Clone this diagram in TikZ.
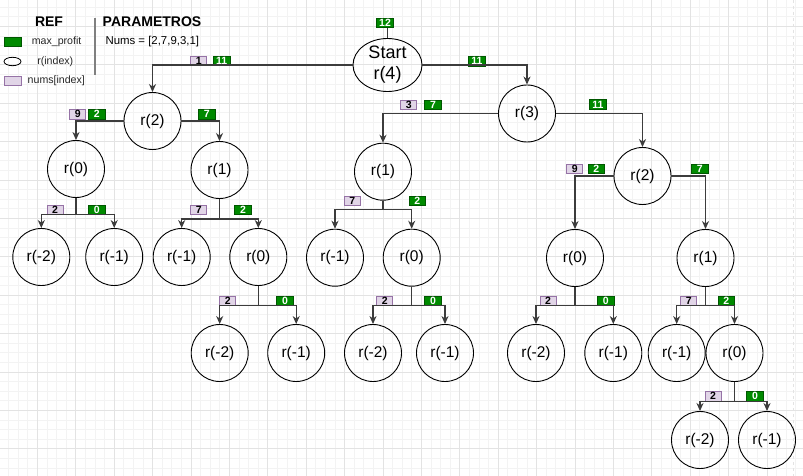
\documentclass[tikz,border=0pt]{standalone}
\usepackage{fontspec}
\setmainfont{Liberation Sans}
\usetikzlibrary{arrows.meta,shapes.geometric}
\definecolor{gminor}{HTML}{F3F3F3}
\definecolor{gmajor}{HTML}{E3E3E3}
\definecolor{pfill}{HTML}{E1D5E7}
\definecolor{pdraw}{HTML}{9673A6}
\definecolor{gfill}{HTML}{008A00}
\definecolor{gdraw}{HTML}{005700}
\definecolor{edgec}{HTML}{3C3C3C}
\tikzset{
  circ/.style={circle,draw=black,line width=0.9pt,minimum size=57pt,inner sep=0pt,font=\fontsize{15.5}{18}\selectfont},
  pbox/.style={rectangle,fill=pfill,draw=pdraw,line width=0.8pt,minimum width=16pt,minimum height=9.5pt,inner sep=0pt,font=\fontsize{10.5}{10}\selectfont\bfseries,text=black},
  gbox/.style={rectangle,fill=gfill,draw=gdraw,line width=0.8pt,minimum width=16.5pt,minimum height=9.5pt,inner sep=0pt,font=\fontsize{10.5}{10}\selectfont\bfseries,text=white},
  edge/.style={draw=edgec,line width=1.2pt,-{Stealth[length=8pt,width=7pt,inset=2.5pt]}},
  plain/.style={draw=edgec,line width=1.2pt},
  legtxt/.style={inner sep=0pt,font=\fontsize{10.6}{12}\selectfont,text=black!85}
}
\begin{document}
\begin{tikzpicture}[x=1pt,y=-1pt]
\useasboundingbox (0,0) rectangle (803,476);
\fill[white] (0,0) rectangle (803,476);
% grid
\foreach \i in {0,...,84} {
  \pgfmathsetmacro\xx{-1.1+9.6*\i}
  \draw[gminor,line width=0.6pt] (\xx,0) -- (\xx,476);
}
\foreach \i in {0,...,50} {
  \pgfmathsetmacro\yy{-2.5+9.6*\i}
  \draw[gminor,line width=0.6pt] (0,\yy) -- (803,\yy);
}
\foreach \i in {0,...,21} {
  \pgfmathsetmacro\xx{37.3+38.4*(\i-1)}
  \draw[gmajor,line width=0.7pt] (\xx,0) -- (\xx,476);
}
\foreach \i in {0,...,13} {
  \pgfmathsetmacro\yy{26.3+38.4*(\i-1)}
  \draw[gmajor,line width=0.7pt] (0,\yy) -- (803,\yy);
}
\draw[gmajor,line width=0.8pt,dashed] (793.5,0) -- (793.5,476);

% legend
\node[inner sep=0pt,font=\fontsize{14}{16}\selectfont\bfseries] (tref) at (49,22) {REF};
\node[inner sep=0pt,font=\fontsize{14}{16}\selectfont\bfseries] (tpar) at (152,22) {PARAMETROS};
\node[inner sep=0pt,font=\fontsize{11.4}{13}\selectfont] (tnums) at (152.3,42) {Nums = [2,7,9,3,1]};
\draw[gray,line width=1.3pt] (95,18) -- (95,75);
\node[rectangle,fill=gfill,draw=gdraw,line width=0.8pt,minimum width=17pt,minimum height=9.4pt,inner sep=0pt] (lg) at (12.5,42) {};
\node[legtxt] (lgt) at (56.6,42) {max\_profit};
\node[ellipse,draw=black,line width=0.8pt,minimum width=17pt,minimum height=8.4pt,inner sep=0pt] (le) at (12.5,61.5) {};
\node[legtxt] (let) at (55.3,61.5) {r(index)};
\node[rectangle,fill=pfill,draw=pdraw,line width=0.8pt,minimum width=17pt,minimum height=9pt,inner sep=0pt] (lp) at (12.5,80.5) {};
\node[legtxt] (lpt) at (56.3,80.5) {nums[index]};

% nodes
\node[ellipse,draw=black,line width=0.9pt,minimum width=69pt,minimum height=53pt,inner sep=0pt,align=center,font=\fontsize{18}{21}\selectfont] (root) at (387.5,65) {Start\\r(4)};
\node[circ] (r2a) at (152.5,121) {r(2)};
\node[circ] (r3) at (527,113.5) {r(3)};
\node[circ] (r0a) at (76,169) {r(0)};
\node[circ] (r1a) at (219.5,170) {r(1)};
\node[circ] (m2a) at (41.3,257) {r(-2)};
\node[circ] (m1a) at (114.2,257) {r(-1)};
\node[circ] (m1b) at (181.7,257) {r(-1)};
\node[circ] (r0b) at (258.3,257) {r(0)};
\node[circ] (m2b) at (219.7,353) {r(-2)};
\node[circ] (m1c) at (296.2,353) {r(-1)};
\node[circ] (r1c) at (383,171.7) {r(1)};
\node[circ] (m1d) at (335,257.7) {r(-1)};
\node[circ] (r0c) at (411.7,257.7) {r(0)};
\node[circ] (m2c) at (373,353) {r(-2)};
\node[circ] (m1e) at (445,353) {r(-1)};
\node[circ] (r2b) at (642.5,176) {r(2)};
\node[circ] (r0d) at (575,258) {r(0)};
\node[circ] (r1d) at (705.5,258) {r(1)};
\node[circ] (m2d) at (536,353) {r(-2)};
\node[circ] (m1f) at (613.3,353) {r(-1)};
\node[circ] (m1g) at (676.7,353) {r(-1)};
\node[circ] (r0e) at (734.5,353) {r(0)};
\node[circ] (m2e) at (700,440) {r(-2)};
\node[circ] (m1h) at (767,440) {r(-1)};

% junctions
\coordinate (j0a) at (76,214.3);
\coordinate (j1a) at (219.5,219);
\coordinate (j0b) at (258.3,305.7);
\coordinate (j1c) at (383,209.3);
\coordinate (j0c) at (411.7,305.3);
\coordinate (j0d) at (575,305.7);
\coordinate (j1d) at (705.5,305.7);
\coordinate (j0e) at (734.5,401.7);

% labels
\node[gbox] (l12) at (385,22.8) {12};
\node[pbox] (lr1) at (198.7,61) {1};
\node[gbox] (lr11) at (221.7,61) {11};
\node[gbox] (lr11b) at (477,61.3) {11};
\node[pbox] (la9) at (77.7,114.2) {9};
\node[gbox] (la2) at (96.7,114.2) {2};
\node[gbox] (la7) at (206.7,114.2) {7};
\node[pbox] (lb2) at (55,209.7) {2};
\node[gbox] (lb0) at (96.7,209.7) {0};
\node[pbox] (lc7) at (198.7,209.7) {7};
\node[gbox] (lc2) at (243,209.7) {2};
\node[pbox] (ld2) at (227.7,300.8) {2};
\node[gbox] (ld0) at (285,300.8) {0};
\node[pbox] (le3) at (408.8,104.7) {3};
\node[gbox] (le7) at (433,104.7) {7};
\node[gbox] (le11) at (598,104.5) {11};
\node[pbox] (lf7) at (352.3,200.7) {7};
\node[gbox] (lf2) at (417.3,200.7) {2};
\node[pbox] (lg2) at (384.7,300.7) {2};
\node[gbox] (lg0) at (433,300.7) {0};
\node[pbox] (lh9) at (574.7,168.7) {9};
\node[gbox] (lh2) at (596.3,168.7) {2};
\node[gbox] (lh7) at (699.7,168.7) {7};
\node[pbox] (li2) at (548,300.8) {2};
\node[gbox] (li0) at (605.7,300.8) {0};
\node[pbox] (lj7) at (688.7,300.8) {7};
\node[gbox] (lj2) at (726.3,300.8) {2};
\node[pbox] (lk2) at (713,396.3) {2};
\node[gbox] (lk0) at (755,396.3) {0};

% connectors
\draw[plain] (root.north) -- (root.north |- l12.south);
\draw[edge] (root.west) -| (r2a.north);
\draw[edge] (root.east) -| (r3.north);
\draw[edge] (r2a.west) -| (r0a.north);
\draw[edge] (r2a.east) -| (r1a.north);
\draw[edge] (r3.west) -| (r1c.north);
\draw[edge] (r3.east) -| (r2b.north);
\draw[edge] (r2b.west) -| (r0d.north);
\draw[edge] (r2b.east) -| (r1d.north);

\draw[edge] (r0a.south) -- (j0a) -| (m2a.north);
\draw[edge] (r0a.south) -- (j0a) -| (m1a.north);
\draw[edge] (r1a.south) -- (j1a) -| (m1b.north);
\draw[edge] (r1a.south) -- (j1a) -| (r0b.north);
\draw[edge] (r0b.south) -- (j0b) -| (m2b.north);
\draw[edge] (r0b.south) -- (j0b) -| (m1c.north);
\draw[edge] (r1c.south) -- (j1c) -| (m1d.north);
\draw[edge] (r1c.south) -- (j1c) -| (r0c.north);
\draw[edge] (r0c.south) -- (j0c) -| (m2c.north);
\draw[edge] (r0c.south) -- (j0c) -| (m1e.north);
\draw[edge] (r0d.south) -- (j0d) -| (m2d.north);
\draw[edge] (r0d.south) -- (j0d) -| (m1f.north);
\draw[edge] (r1d.south) -- (j1d) -| (m1g.north);
\draw[edge] (r1d.south) -- (j1d) -| (r0e.north);
\draw[edge] (r0e.south) -- (j0e) -| (m2e.north);
\draw[edge] (r0e.south) -- (j0e) -| (m1h.north);
\end{tikzpicture}
\end{document}
